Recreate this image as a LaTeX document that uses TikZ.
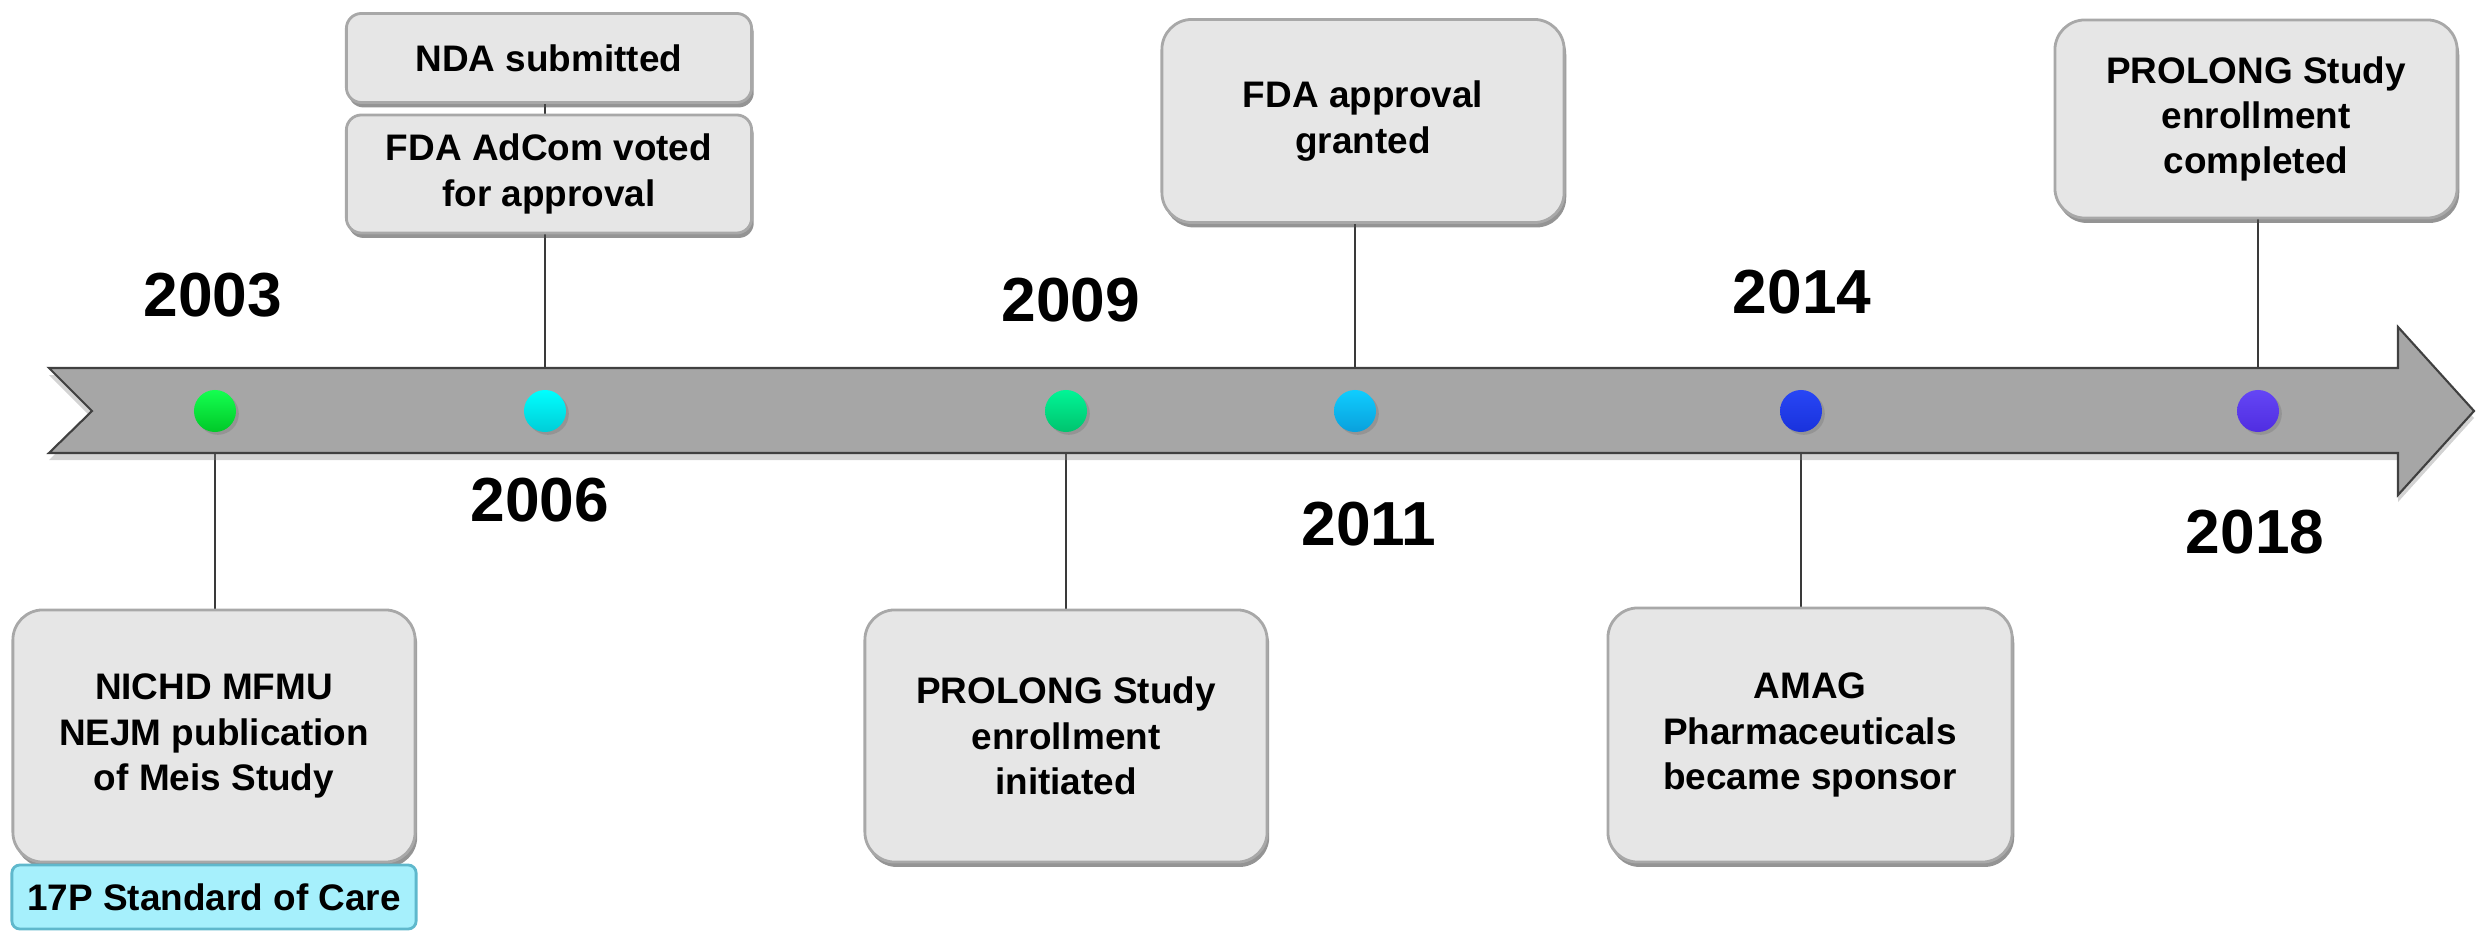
\documentclass[tikz,border=0pt]{standalone}
\usepackage{fontspec}
\setmainfont{Liberation Sans}
\usetikzlibrary{shadows}
\definecolor{boxgray}{HTML}{E6E6E6}
\definecolor{boxedge}{HTML}{A8A8A8}
\definecolor{bandgray}{HTML}{A6A6A6}
\definecolor{bandedge}{HTML}{404040}
\definecolor{stdcyan}{HTML}{A6F0FC}
\definecolor{stdedge}{HTML}{5FB8CC}
\definecolor{linegray}{HTML}{3A3A3A}
\pgfdeclarelayer{bg}
\pgfdeclarelayer{bandlayer}
\pgfsetlayers{bg,bandlayer,main}
\tikzset{
  evbox/.style={rectangle, rounded corners=0.3cm, fill=boxgray, draw=boxedge, line width=0.8pt,
    align=center, inner sep=0pt, font=\fontsize{10.5pt}{12.9pt}\selectfont\bfseries,
    drop shadow={shadow xshift=0.6pt, shadow yshift=-1.4pt, opacity=0.6, fill=black!70}},
  smallbox/.style={evbox, rounded corners=0.15cm},
  stdbox/.style={rectangle, rounded corners=0.08cm, fill=stdcyan, draw=stdedge, line width=0.8pt,
    align=center, inner sep=0pt, font=\fontsize{10.5pt}{12.9pt}\selectfont\bfseries},
  yearlbl/.style={font=\fontsize{17.7pt}{20pt}\selectfont\bfseries, inner sep=0pt},
  dot/.style={circle, minimum size=0.42cm, inner sep=0pt,
    drop shadow={shadow xshift=0.8pt, shadow yshift=-0.8pt, opacity=0.45}},
  conn/.style={draw=linegray, line width=0.8pt}
}
\begin{document}
\begin{tikzpicture}[x=0.01cm,y=-0.01cm]
\useasboundingbox (0,0) rectangle (2476,931);

% band arrow
\begin{pgfonlayer}{bandlayer}
\path[fill=bandgray, draw=bandedge, line width=0.6pt,
  drop shadow={shadow xshift=0pt, shadow yshift=-2pt, opacity=0.35}]
  (49,368) -- (2398,368) -- (2398,327) -- (2474,411) -- (2398,495) -- (2398,453)
  -- (49,453) -- (92,411) -- cycle;
\end{pgfonlayer}

% dots
\node[dot, top color={rgb,255:red,20;green,255;blue,80}, bottom color={rgb,255:red,0;green,200;blue,40}] (d03) at (215,411) {};
\node[dot, top color={rgb,255:red,0;green,255;blue,255}, bottom color={rgb,255:red,0;green,205;blue,215}] (d06) at (545,411) {};
\node[dot, top color={rgb,255:red,0;green,245;blue,150}, bottom color={rgb,255:red,0;green,195;blue,110}] (d09) at (1066,411) {};
\node[dot, top color={rgb,255:red,15;green,205;blue,255}, bottom color={rgb,255:red,10;green,160;blue,220}] (d11) at (1355,411) {};
\node[dot, top color={rgb,255:red,40;green,70;blue,245}, bottom color={rgb,255:red,25;green,50;blue,220}] (d14) at (1801,411) {};
\node[dot, top color={rgb,255:red,100;green,70;blue,245}, bottom color={rgb,255:red,80;green,45;blue,225}] (d18) at (2258,411) {};

% year labels
\node[yearlbl] (y03) at (213,295) {2003};
\node[yearlbl] (y06) at (540,500) {2006};
\node[yearlbl] (y09) at (1071,300) {2009};
\node[yearlbl] (y11) at (1369,524) {2011};
\node[yearlbl] (y14) at (1802,292) {2014};
\node[yearlbl] (y18) at (2255,532) {2018};

% event boxes
\node[evbox, minimum width=4.02cm, minimum height=2.52cm] (nichd) at (214,736)
  {NICHD MFMU\\NEJM publication\\of Meis Study};
\node[stdbox, minimum width=4.04cm, minimum height=0.64cm] (std) at (214,897)
  {17P Standard of Care};
\node[smallbox, minimum width=4.05cm, minimum height=0.89cm] (nda) at (549,58)
  {NDA submitted};
\node[smallbox, minimum width=4.05cm, minimum height=1.18cm] (adcom) at (549,174)
  {FDA AdCom voted\\for approval};
\node[evbox, minimum width=4.02cm, minimum height=2.03cm] (fdaok) at (1363,121)
  {FDA approval\\granted};
\node[evbox, minimum width=4.02cm, minimum height=1.98cm] (prolend) at (2256,119)
  {PROLONG Study\\enrollment\\completed};
\node[evbox, minimum width=4.02cm, minimum height=2.52cm] (prolinit) at (1066,736)
  {PROLONG Study\\enrollment\\initiated};
\node[evbox, minimum width=4.04cm, minimum height=2.54cm] (amag) at (1810,735)
  {AMAG\\Pharmaceuticals\\became sponsor};

% connectors
\begin{pgfonlayer}{bg}
\draw[conn] (d03) -- (d03 |- nichd.north);
\draw[conn] (d06) -- (d06 |- adcom.south);
\draw[conn] (d06 |- adcom.north) -- (d06 |- nda.south);
\draw[conn] (d09) -- (d09 |- prolinit.north);
\draw[conn] (d11) -- (d11 |- fdaok.south);
\draw[conn] (d14) -- (d14 |- amag.north);
\draw[conn] (d18) -- (d18 |- prolend.south);
\end{pgfonlayer}
\end{tikzpicture}
\end{document}
